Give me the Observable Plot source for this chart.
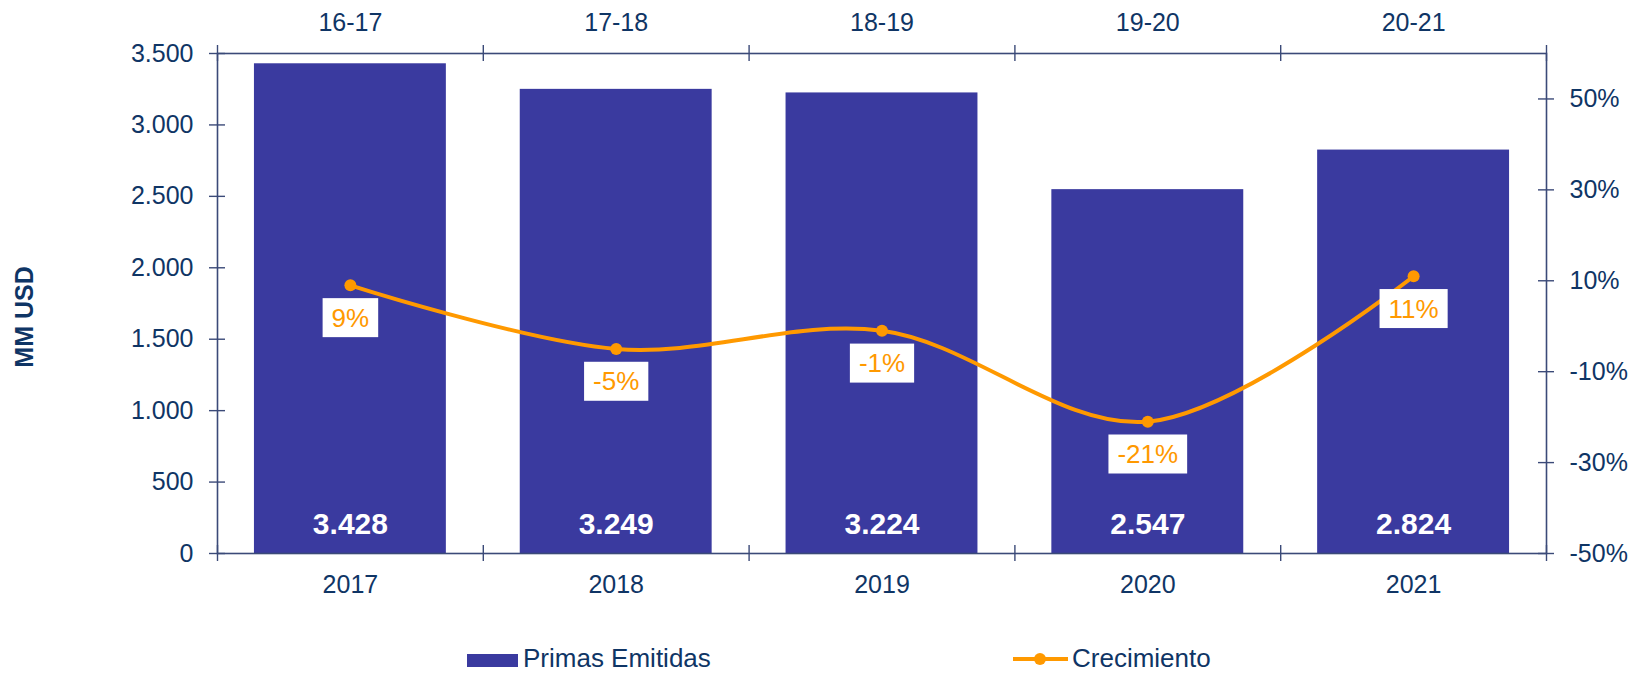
<!DOCTYPE html>
<html><head><meta charset="utf-8">
<script src="https://cdn.jsdelivr.net/npm/d3@7"></script>
<script src="https://cdn.jsdelivr.net/npm/@observablehq/plot@0.6"></script>
<style>
body{margin:0;background:#fff;font-family:"Liberation Sans",Arial,sans-serif;}
#wrap{position:relative;width:1645px;height:673px;overflow:hidden;}
#ytitle{position:absolute;left:24px;top:317px;transform:translate(-50%,-50%) rotate(-90deg);font-weight:bold;font-size:25px;color:#0f3565;white-space:nowrap;}
.legsvg{position:absolute;left:0;top:620px;}
.legt{position:absolute;top:643px;font-size:26px;line-height:30px;color:#0f3565;white-space:nowrap;}
</style></head><body>
<div id="wrap">
<div id="chart"></div>
<div id="ytitle">MM USD</div>
<svg class="legsvg" width="1645" height="53">
  <rect x="467" y="34" width="51" height="13" fill="#3a3a9f"/>
  <line x1="1013" y1="39" x2="1068" y2="39" stroke="#ff9900" stroke-width="4"/>
  <circle cx="1040" cy="39" r="6" fill="#ff9900"/>
</svg>
<div class="legt" style="left:523px;">Primas Emitidas</div>
<div class="legt" style="left:1072px;">Crecimiento</div>
</div>
<script>
// ---- data ----
const years = ["2017", "2018", "2019", "2020", "2021"];
const periods = ["16-17", "17-18", "18-19", "19-20", "20-21"];
const primas = [3428, 3249, 3224, 2547, 2824];
const crecimiento = [9, -5, -1, -21, 11];
const leftTicks = [0, 500, 1000, 1500, 2000, 2500, 3000, 3500];
const rightTicks = [-50, -30, -10, 10, 30, 50];
const leftDomain = [0, 3500];
const rightDomain = [-50, 60];

// ---- styles ----
const barColor = "#3a3a9f";
const orange = "#ff9900";
const navy = "#0f3565";
const axisColor = "#3b4a78";

const loc = d3.formatLocale({decimal: ",", thousands: ".", grouping: [3], currency: ["", ""]});
const fmt = loc.format(",d");

const data = years.map((y, i) => ({i, year: y, period: periods[i], primas: primas[i], crec: crecimiento[i]}));
const toY = p => (p - rightDomain[0]) / (rightDomain[1] - rightDomain[0]) * (leftDomain[1] - leftDomain[0]) + leftDomain[0];
const fromY = v => (v - leftDomain[0]) / (leftDomain[1] - leftDomain[0]) * (rightDomain[1] - rightDomain[0]) + rightDomain[0];
const xDomain = [-0.5, years.length - 0.5];
const bounds = d3.range(years.length + 1).map(k => k - 0.5);
const idx = years.map((_, i) => i);
const half = 0.361;

const W = 1645, H = 620;
const plot = Plot.plot({
  width: W, height: H,
  marginLeft: 217, marginRight: 99, marginTop: 53, marginBottom: H - 553,
  style: {fontFamily: "'Liberation Sans', Arial, sans-serif", fontSize: "25px", color: navy, background: "#fff"},
  x: {type: "linear", domain: xDomain},
  y: {type: "linear", domain: leftDomain},
  marks: [
    Plot.rectY(data, {x1: d => d.i - half, x2: d => d.i + half, y: "primas", fill: barColor}),
    Plot.frame({stroke: axisColor, strokeWidth: 1.6}),
    Plot.ruleX(bounds, {x: d => d, y1: leftDomain[0], y2: leftDomain[0], insetTop: -8, insetBottom: -8, stroke: axisColor, strokeWidth: 1.4}),
    Plot.ruleX(bounds, {x: d => d, y1: leftDomain[1], y2: leftDomain[1], insetTop: -8, insetBottom: -8, stroke: axisColor, strokeWidth: 1.4}),
    Plot.ruleY(leftTicks, {y: d => d, x1: xDomain[0], x2: xDomain[0], insetLeft: -8, insetRight: -8, stroke: axisColor, strokeWidth: 1.4}),
    Plot.ruleY(rightTicks, {y: d => toY(d), x1: xDomain[1], x2: xDomain[1], insetLeft: -8, insetRight: -8, stroke: axisColor, strokeWidth: 1.4}),
    Plot.axisX({anchor: "bottom", ticks: idx, tickSize: 0, tickPadding: 22, tickFormat: i => years[i], fill: navy, fontSize: 25, label: null}),
    Plot.axisX({anchor: "top", ticks: idx, tickSize: 0, tickPadding: 23, tickFormat: i => periods[i], fill: navy, fontSize: 25, label: null}),
    Plot.axisY({anchor: "left", ticks: leftTicks, tickSize: 0, tickPadding: 24, tickFormat: fmt, fill: navy, fontSize: 25, label: null}),
    Plot.axisY({anchor: "right", ticks: rightTicks.map(toY), tickSize: 0, tickPadding: 23, tickFormat: v => Math.round(fromY(v)) + "%", fill: navy, fontSize: 25, label: null}),
    Plot.text(data, {x: "i", y: leftDomain[0], text: d => fmt(d.primas), dy: -29, fill: "#ffffff", fontWeight: "bold", fontSize: 30}),
    Plot.line(data, {x: "i", y: d => toY(d.crec), stroke: orange, strokeWidth: 4, curve: "catmull-rom"}),
    Plot.dot(data, {x: "i", y: d => toY(d.crec), r: 6, fill: orange}),
    Plot.text(data, {x: "i", y: d => toY(d.crec), text: d => d.crec + "%", dy: 33, fill: orange, fontSize: 26})
  ]
});
document.getElementById("chart").appendChild(plot);

// white boxes behind the percentage labels
plot.querySelectorAll('g[aria-label="text"]').forEach(g => {
  if ((g.getAttribute("fill") || "").toLowerCase() !== orange) return;
  Array.from(g.querySelectorAll("text")).forEach(t => {
    const b = t.getBBox();
    const r = document.createElementNS("http://www.w3.org/2000/svg", "rect");
    const cx = b.x + b.width / 2, cy = b.y + b.height / 2;
    const w = b.width + 18, h = 39;
    r.setAttribute("x", cx - w / 2);
    r.setAttribute("y", cy - h / 2);
    r.setAttribute("width", w);
    r.setAttribute("height", h);
    r.setAttribute("fill", "#ffffff");
    r.setAttribute("stroke", "none");
    if (t.getAttribute("transform")) r.setAttribute("transform", t.getAttribute("transform"));
    g.insertBefore(r, t);
  });
});
</script>
</body></html>
